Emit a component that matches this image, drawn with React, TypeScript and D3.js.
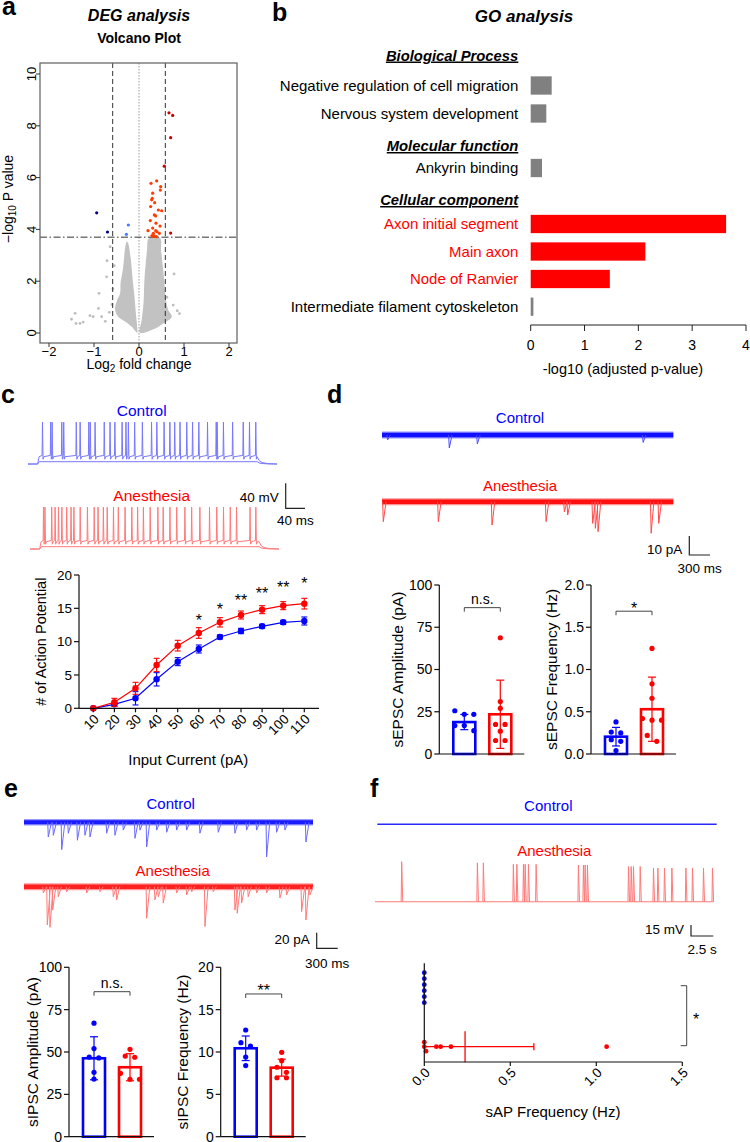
import React from "react";
import * as d3 from "d3";

const FF = "'Liberation Sans', Arial, Helvetica, sans-serif";
const BLUE = "#0000ff";
const RED = "#ff0000";
const GROUPS = ["Control", "Anesthesia"];

// ---------------- a: volcano (log2 FC, -log10 P)
const volcanoXTicks = [-2, -1, 0, 1, 2];
const volcanoYTicks = [0, 2, 4, 6, 8, 10];
const foldCutoff = 0.585;
const pCutoff = 3.7;
const volcanoUpStrong = [[0.667, 8.5], [0.749, 8.4], [0.704, 7.54], [0.562, 6.44], [0.704, 3.86]];
const volcanoUp = [
  [0.267, 5.78], [0.393, 5.87], [0.482, 5.65], [0.474, 5.52], [0.304, 5.4], [0.296, 5.2], [0.281, 5.14],
  [0.348, 5.03], [0.259, 4.88], [0.43, 4.75], [0.504, 4.72], [0.341, 4.56], [0.37, 4.52], [0.252, 4.34],
  [0.378, 4.24], [0.467, 4.13], [0.304, 4.05], [0.2, 3.95], [0.37, 3.95], [0.4, 3.91], [0.319, 3.85],
  [0.452, 3.85], [0.289, 3.76], [0.341, 3.75], [0.385, 3.72], [0.3, 3.73],
];
const volcanoDownStrong = [[-0.94, 4.64], [-0.7, 3.9]];
const volcanoDown = [[-0.237, 4.17], [-0.28, 3.81]];
const volcanoCloudLeft = [
  [-0.04, 0.01], [-0.16, 0.24], [-0.31, 0.44], [-0.46, 0.63], [-0.53, 0.89], [-0.5, 1.21], [-0.42, 1.53],
  [-0.41, 1.92], [-0.36, 2.43], [-0.33, 2.92], [-0.31, 3.27], [-0.27, 3.53], [-0.24, 3.46], [-0.18, 2.82],
  [-0.14, 2.05], [-0.1, 1.4], [-0.07, 0.76], [-0.04, 0.24],
];
const volcanoCloudRight = [
  [0.02, 0.01], [0.06, 0.5], [0.1, 1.15], [0.12, 2.05], [0.15, 2.69], [0.18, 3.2], [0.22, 3.66],
  [0.47, 3.66], [0.49, 3.2], [0.53, 2.56], [0.56, 2.05], [0.59, 1.4], [0.65, 0.89], [0.73, 0.63],
  [0.54, 0.37], [0.32, 0.14],
];
const volcanoGreyOutliers = [
  [-1.5, 0.53], [-1.42, 0.76], [-1.31, 0.37], [-1.4, 0.37], [-1.24, 0.42], [-1.09, 0.67], [-1.02, 0.63],
  [-0.9, 0.95], [-0.89, 1.53], [-0.72, 2.17], [-0.71, 2.79], [-0.64, 3.33], [-0.83, 0.63], [-0.75, 0.45],
  [-0.66, 0.8], [-0.6, 1.1], [0.76, 1.08], [0.85, 0.86], [0.78, 2.28], [0.62, 1.38], [0.68, 0.7],
  [0.9, 0.75], [-0.55, 2.6], [-0.58, 1.7],
];

// ---------------- b: GO analysis
const goSections = ["Biological Process", "Molecular function", "Cellular component"];
const goTerms = [
  "Negative regulation of cell migration",
  "Nervous system development",
  "Ankyrin binding",
  "Axon initial segment",
  "Main axon",
  "Node of Ranvier",
  "Intermediate filament cytoskeleton",
];
const goValues = [0.39, 0.29, 0.21, 3.63, 2.13, 1.47, 0.05];
const goEnriched = [false, false, false, true, true, true, false];
const goTicks = [0, 1, 2, 3, 4];

// ---------------- c: action potentials
const inputCurrents = [10, 20, 30, 40, 50, 60, 70, 80, 90, 100, 110];
const apAnesMean = [0, 0.9, 3.0, 6.5, 9.4, 11.3, 12.9, 14.0, 14.8, 15.4, 15.7];
const apAnesSem = [0, 0.6, 0.9, 1.0, 0.8, 0.8, 0.7, 0.6, 0.6, 0.6, 0.8];
const apCtrlMean = [0, 0.6, 1.5, 4.35, 7.0, 8.9, 10.7, 11.6, 12.3, 12.9, 13.1];
const apCtrlSem = [0, 0.3, 1.0, 1.0, 0.6, 0.6, 0.3, 0.4, 0.3, 0.3, 0.6];
const apSig = ["", "", "", "", "", "*", "*", "**", "**", "**", "*"];
const apYTicks = [0, 5, 10, 15, 20];
const cTraceMs = 516;
const cCtrlSpikeMs = [30, 47, 50, 70, 74, 100, 108, 126, 129, 139, 158, 170, 180, 195, 203, 208, 221, 237, 256, 267, 282, 294, 304, 315, 329, 341, 354, 372, 390, 392, 405, 424, 446, 459, 472];
const cAnesSpikeMs = [28, 31, 45, 52, 59, 66, 76, 85, 91, 104, 119, 133, 141, 152, 160, 173, 183, 197, 211, 223, 235, 249, 265, 276, 290, 304, 321, 335, 352, 372, 387, 401, 415, 428, 456, 468];

// ---------------- d: sEPSC
const dTraceMs = 4220;
const dCtrlEvents = [[81, 2.6], [975, 6.8], [1381, 4.7], [3783, 3.9]];
const dAnesEvents = [[19, 10.5], [816, 10.5], [1594, 12.3], [2377, 10.5], [2642, 5.3], [2690, 7], [3052, 11.4], [3091, 14], [3130, 15.8], [3899, 16.6], [4009, 11.4]];
const sepscAmpCtrl = [25.6, 23.5, 23.5, 16.8, 16.8, 13.8];
const sepscAmpAnes = [68.8, 31, 27, 17.5, 17.5, 13.5, 8, 8];
const sepscAmpMean = [18.9, 23.5];
const sepscAmpSd = [4.5, 20.2];
const sepscFreqCtrl = [0.38, 0.26, 0.25, 0.17, 0.15, 0.04];
const sepscFreqAnes = [1.25, 0.83, 0.66, 0.42, 0.4, 0.4, 0.22, 0.15];
const sepscFreqMean = [0.205, 0.53];
const sepscFreqSd = [0.11, 0.38];

// ---------------- e: sIPSC
const eTraceMs = 4130;
const eCtrlEvents = [[347, 18.8], [419, 16.7], [539, 35], [633, 14], [763, 23], [871, 16.7], [943, 18.8], [1181, 14], [1300, 16.7], [1419, 10], [1586, 20.5], [1657, 10], [1753, 31.7], [1896, 10], [2039, 12.8], [2181, 10], [2324, 10], [2514, 14], [2776, 12.8], [3014, 14], [3181, 10], [3324, 10], [3467, 44.5], [3610, 12.8], [3729, 10], [4029, 25.3]];
const eAnesEvents = [[276, 8], [333, 49], [371, 52], [410, 30], [490, 12.8], [610, 6.4], [896, 8], [1086, 6.4], [1276, 12.8], [1324, 17], [1753, 40.5], [1871, 17], [1919, 12.8], [1990, 21], [2181, 8], [2324, 10.6], [2396, 6.4], [2586, 51], [2704, 6.4], [3014, 30], [3047, 34], [3110, 21], [3204, 12.8], [3324, 8], [3467, 8], [3657, 14.5], [3753, 10.6], [3967, 32], [4029, 42.7], [4086, 10.6]];
const sipscAmpCtrl = [67, 52, 47, 46.5, 38, 34];
const sipscAmpAnes = [51.6, 47.6, 46.9, 37.4, 33.9, 33.9];
const sipscAmpMean = [46.3, 41];
const sipscAmpSd = [12.7, 8];
const sipscFreqCtrl = [12.6, 11.1, 10.7, 9.4, 8.4];
const sipscFreqAnes = [9.96, 8.97, 8.2, 7.6, 6.96, 6.96];
const sipscFreqMean = [10.44, 8.15];
const sipscFreqSd = [1.45, 1.0];

// ---------------- f: spontaneous APs
const fTraceS = 37.9;
const fAnesSpikes = [[2.99, 54.5], [11.47, 53], [12.14, 53], [15.5, 51], [15.89, 51], [16.63, 51], [16.82, 51], [17.19, 51], [18.05, 51], [22.79, 50], [23.35, 50], [23.54, 50], [23.8, 50], [28.4, 48], [28.7, 48], [28.96, 48], [29.71, 48], [31.2, 46], [31.69, 46], [32.43, 46], [33.26, 46], [34.83, 46], [35.57, 46], [36.8, 46], [37.81, 46]];
const sapFreqCtrl = [0, 0, 0, 0, 0, 0];
const sapFreqAnes = [0, 0, 0.01, 0.07, 0.095, 0.155, 1.06];
const sapFreqMean = [0, 0.237];
const sapFreqSd = [0, 0.4];
const sapTicks = [0, 0.5, 1.0, 1.5];

// ---------------- helpers
function binOffsets(pix: number[], tol: number, spacing: number) {
  const idx = pix.map((_, i) => i).sort((a, b) => pix[a] - pix[b]);
  const offs = new Array(pix.length).fill(0);
  let i = 0;
  while (i < idx.length) {
    let j = i;
    while (j + 1 < idx.length && Math.abs(pix[idx[j + 1]] - pix[idx[i]]) < tol) j++;
    const n = j - i + 1;
    for (let k = 0; k < n; k++) offs[idx[i + k]] = (k - (n - 1) / 2) * spacing;
    i = j + 1;
  }
  return offs;
}

function Volcano() {
  const x = d3.scaleLinear().domain([-2, 2]).range([49, 229]);
  const y = d3.scaleLinear().domain([0, 10]).range([333, 74]);
  const L = 40, R = 237, T = 63, B = 343;
  const cloud = d3.line<any>().x((d) => x(d[0])).y((d) => y(d[1])).curve(d3.curveCatmullRomClosed);
  const pts = (arr: number[][], color: string, r: number) =>
    arr.map((d, i) => <circle key={i} cx={x(d[0])} cy={y(d[1])} r={r} fill={color} />);
  return (
    <g>
      <text x={139} y={21} textAnchor="middle" fontSize={16} fontWeight="bold" fontStyle="italic">DEG analysis</text>
      <text x={139} y={43} textAnchor="middle" fontSize={14} fontWeight="bold">Volcano Plot</text>
      <path d={cloud(volcanoCloudLeft) || ""} fill="#c2c2c2" />
      <path d={cloud(volcanoCloudRight) || ""} fill="#c2c2c2" />
      {pts(volcanoGreyOutliers, "#bdbdbd", 1.4)}
      <line x1={x(0)} x2={x(0)} y1={T} y2={B} stroke="#999" strokeDasharray="1.5,1.5" />
      <line x1={x(-foldCutoff)} x2={x(-foldCutoff)} y1={T} y2={B} stroke="#333" strokeDasharray="5,3" />
      <line x1={x(foldCutoff)} x2={x(foldCutoff)} y1={T} y2={B} stroke="#333" strokeDasharray="5,3" />
      <line x1={L} x2={R} y1={y(pCutoff)} y2={y(pCutoff)} stroke="#333" strokeDasharray="7,2.5,1.5,2.5" />
      {pts(volcanoUp, "#ff3c00", 1.6)}
      {pts(volcanoUpStrong, "#c80000", 1.6)}
      {pts(volcanoDown, "#4a78ff", 1.6)}
      {pts(volcanoDownStrong, "#00007a", 1.6)}
      <rect x={L} y={T} width={R - L} height={B - T} fill="none" stroke="#6a6a6a" strokeWidth={1.3} />
      {volcanoXTicks.map((t) => (
        <g key={t}>
          <line x1={x(t)} x2={x(t)} y1={B} y2={B + 4} stroke="#333" />
          <text x={x(t)} y={356} textAnchor="middle" fontSize={13}>{t < 0 ? "\u2212" + Math.abs(t) : t}</text>
        </g>
      ))}
      {volcanoYTicks.map((t) => (
        <g key={t}>
          <line x1={L - 4} x2={L} y1={y(t)} y2={y(t)} stroke="#333" />
          <text transform={`translate(35.5,${y(t)}) rotate(-90)`} textAnchor="middle" fontSize={13}>{t}</text>
        </g>
      ))}
      <text x={139} y={368.5} textAnchor="middle" fontSize={14}>
        <tspan>Log</tspan><tspan fontSize={10} dy={3}>2</tspan><tspan dy={-3}> fold change</tspan>
      </text>
      <text transform="translate(13,199) rotate(-90)" textAnchor="middle" fontSize={14}>
        <tspan>{"\u2212log"}</tspan><tspan fontSize={10} dy={3}>10</tspan><tspan dy={-3}> P value</tspan>
      </text>
    </g>
  );
}

function GoPanel() {
  const x = d3.scaleLinear().domain([0, 4]).range([530.7, 746]);
  const termY = [85.5, 113.5, 168, 224, 251.5, 279, 306.7];
  const headerY = [55.5, 146, 200];
  const labelX = 518.3;
  const barH = 18.3;
  const axisY = 325;
  return (
    <g>
      <text x={524} y={22} textAnchor="middle" fontSize={17} fontWeight="bold" fontStyle="italic">GO analysis</text>
      {goSections.map((s, i) => (
        <text key={s} x={labelX} y={headerY[i] + 5} textAnchor="end" fontSize={14.8} fontWeight="bold" fontStyle="italic" style={{ textDecoration: "underline" }}>{s}</text>
      ))}
      {goTerms.map((t, i) => (
        <g key={t}>
          <text x={labelX} y={termY[i]} dy="0.35em" textAnchor="end" fontSize={15} fill={goEnriched[i] ? RED : "#000"}>{t}</text>
          <rect x={x(0)} y={termY[i] - barH / 2} width={x(goValues[i]) - x(0)} height={barH} fill={goEnriched[i] ? RED : "#808080"} />
        </g>
      ))}
      <line x1={x(0)} x2={x(4)} y1={axisY} y2={axisY} stroke="#222" />
      {goTicks.map((t) => (
        <g key={t}>
          <line x1={x(t)} x2={x(t)} y1={axisY} y2={axisY + 6} stroke="#222" />
          <text x={x(t)} y={350} textAnchor="middle" fontSize={14}>{t}</text>
        </g>
      ))}
      <text x={623} y={374} textAnchor="middle" fontSize={14.5}>-log10 (adjusted p-value)</text>
    </g>
  );
}

function spikeTrace(spikes: number[], rest: number, level: number, peak: number, tOn: number, tOff: number, tEnd: number) {
  const p: number[][] = [[0, rest], [tOn, rest], [tOn + 3, level]];
  spikes.forEach((t) => {
    p.push([t - 0.8, level + 2], [t, peak], [t + 1.2, level - 4], [t + 3, level]);
  });
  const dv = level - rest;
  p.push([tOff, level], [tOff + 4, rest + dv * 0.45], [tOff + 10, rest + dv * 0.2], [tOff + 22, rest + dv * 0.05], [tEnd, rest]);
  return p;
}

function SpikeTraceSet({ spikes, x0, x1, yRest, color }: any) {
  const t = d3.scaleLinear().domain([0, cTraceMs]).range([x0, x1]);
  const v = d3.scaleLinear().domain([-70, -30]).range([yRest, yRest - 25]);
  const line = d3.line<any>().x((d) => t(d[0])).y((d) => v(d[1]));
  const traces = [spikeTrace([], -70, -66.3, -3, 20, 475, cTraceMs), spikeTrace(spikes, -70, -58.3, -3, 20, 475, cTraceMs)];
  return (
    <g>
      {traces.map((tr, i) => <path key={i} d={line(tr) || ""} fill="none" stroke={color} strokeWidth={1} />)}
    </g>
  );
}

function ScaleBar({ x, yTop, yBot, xEnd, vLabel, hLabel, vLabelY, hLabelY }: any) {
  return (
    <g>
      <path d={`M${x},${yTop}V${yBot}H${xEnd}`} fill="none" stroke="#222" strokeWidth={1.2} />
      <text x={x - 7} y={vLabelY} textAnchor="end" fontSize={13.5}>{vLabel}</text>
      <text x={(x + xEnd) / 2} y={hLabelY} textAnchor="middle" fontSize={13.5}>{hLabel}</text>
    </g>
  );
}

function CTraces() {
  const tA = d3.scaleLinear().domain([0, cTraceMs]).range([30, 279]);
  const vA = d3.scaleLinear().domain([0, 40]).range([508.3, 483.3]);
  const sx = 285.7;
  return (
    <g>
      <text x={141.7} y={416} textAnchor="middle" fontSize={15.5} fill={BLUE}>Control</text>
      <SpikeTraceSet spikes={cCtrlSpikeMs} x0={28} x1={277} yRest={464} color="#7878ff" />
      <text x={151.7} y={500.5} textAnchor="middle" fontSize={15.5} fill={RED}>Anesthesia</text>
      <SpikeTraceSet spikes={cAnesSpikeMs} x0={30} x1={279} yRest={549} color="#ff7a7a" />
      <ScaleBar x={sx} yTop={vA(40)} yBot={vA(0)} xEnd={sx + (tA(40) - tA(0))} vLabel="40 mV" hLabel="40 ms" vLabelY={501.5} hLabelY={524.5} />
    </g>
  );
}

function APChart() {
  const x = d3.scalePoint().domain(inputCurrents.map(String)).range([93.3, 304.3]);
  const y = d3.scaleLinear().domain([0, 20]).range([708.3, 575]);
  const x0 = 79, x1 = 319;
  const line = d3.line<number>().x((_, i) => x(String(inputCurrents[i])) as number).y((d) => y(d));
  const sigLevels = [0, 0, 0, 0, 0, 13.7, 15.35, 16.65, 17.75, 18.65, 19.25];
  const series = [
    { mean: apCtrlMean, sem: apCtrlSem, c: BLUE },
    { mean: apAnesMean, sem: apAnesSem, c: RED },
  ];
  return (
    <g>
      {series.map((s, si) => (
        <g key={si}>
          <path d={line(s.mean) || ""} fill="none" stroke={s.c} strokeWidth={1.2} />
          {s.mean.map((m, i) => {
            const cx = x(String(inputCurrents[i])) as number;
            const e = s.sem[i];
            return (
              <g key={i}>
                {e > 0 && (
                  <g stroke={s.c} strokeWidth={1.1}>
                    <line x1={cx} x2={cx} y1={y(m + e)} y2={y(m - e)} />
                    <line x1={cx - 3} x2={cx + 3} y1={y(m + e)} y2={y(m + e)} />
                    <line x1={cx - 3} x2={cx + 3} y1={y(m - e)} y2={y(m - e)} />
                  </g>
                )}
                <circle cx={cx} cy={y(m)} r={3.2} fill={s.c} />
              </g>
            );
          })}
        </g>
      ))}
      {apSig.map((s, i) => s ? (
        <text key={i} x={x(String(inputCurrents[i]))} y={y(sigLevels[i]) + 9} textAnchor="middle" fontSize={16}>{s}</text>
      ) : null)}
      <line x1={x0} x2={x0} y1={y(0)} y2={y(20)} stroke="#111" strokeWidth={1.2} />
      <line x1={x0} x2={x1} y1={y(0)} y2={y(0)} stroke="#111" strokeWidth={1.2} />
      {apYTicks.map((t) => (
        <g key={t}>
          <line x1={x0 - 5} x2={x0} y1={y(t)} y2={y(t)} stroke="#111" strokeWidth={1.2} />
          <text x={x0 - 7} y={y(t)} dy="0.35em" textAnchor="end" fontSize={13.5}>{t}</text>
        </g>
      ))}
      {inputCurrents.map((c) => {
        const px = x(String(c)) as number;
        return (
          <g key={c}>
            <line x1={px} x2={px} y1={y(0)} y2={y(0) + 4} stroke="#111" strokeWidth={1.2} />
            <text transform={`translate(${px + 4},${y(0) + 9}) rotate(-45)`} textAnchor="end" dominantBaseline="middle" fontSize={13.5}>{c}</text>
          </g>
        );
      })}
      <text x={188.3} y={764.5} textAnchor="middle" fontSize={15}>Input Current (pA)</text>
      <text transform="translate(45.5,641.7) rotate(-90)" textAnchor="middle" fontSize={14.5}># of Action Potential</text>
    </g>
  );
}

function EventTrace({ events, tMax, x0, x1, yc, pxPerUnit, band, ev, bandW, rise, decay }: any) {
  const t = d3.scaleLinear().domain([0, tMax]).range([x0, x1]);
  const a = d3.scaleLinear().domain([0, 10]).range([yc, yc + 10 * pxPerUnit]);
  const evPath = events
    .map(([tt, amp]: number[]) => `M${t(tt - rise)},${yc}L${t(tt)},${a(amp)}L${t(tt + decay)},${yc}`)
    .join("");
  return (
    <g>
      <line x1={t(0)} x2={t(tMax)} y1={yc} y2={yc} stroke={band} strokeWidth={bandW + 2.5} strokeOpacity={0.45} />
      <line x1={t(0)} x2={t(tMax)} y1={yc} y2={yc} stroke={band} strokeWidth={bandW} />
      <path d={evPath} fill="none" stroke={ev} strokeWidth={1} />
    </g>
  );
}

function DTraces() {
  const t = d3.scaleLinear().domain([0, dTraceMs]).range([382, 673.3]);
  const sx = 689.3;
  return (
    <g>
      <text x={520} y={422.5} textAnchor="middle" fontSize={15} fill={BLUE}>Control</text>
      <EventTrace events={dCtrlEvents} tMax={dTraceMs} x0={382} x1={673.3} yc={435} pxPerUnit={1.9} band="#1010ff" ev="#4a4aff" bandW={4.5} rise={10} decay={40} />
      <text x={520} y={490.5} textAnchor="middle" fontSize={15} fill={RED}>Anesthesia</text>
      <EventTrace events={dAnesEvents} tMax={dTraceMs} x0={382} x1={673.3} yc={501.7} pxPerUnit={1.9} band="#ff1010" ev="#ff4a4a" bandW={4.5} rise={10} decay={40} />
      <ScaleBar x={sx} yTop={536} yBot={536 + 10 * 1.9} xEnd={sx + (t(300) - t(0))} vLabel="10 pA" hLabel="300 ms" vLabelY={553.5} hLabelY={572.5} />
    </g>
  );
}

function ETraces() {
  const t = d3.scaleLinear().domain([0, eTraceMs]).range([24, 313]);
  const sx = 316.7;
  return (
    <g>
      <text x={170.7} y={808.5} textAnchor="middle" fontSize={15} fill={BLUE}>Control</text>
      <EventTrace events={eCtrlEvents} tMax={eTraceMs} x0={24} x1={313} yc={822.3} pxPerUnit={0.78} band="#1a1aff" ev="#6a6aff" bandW={4} rise={8} decay={45} />
      <text x={172.7} y={876} textAnchor="middle" fontSize={15} fill={RED}>Anesthesia</text>
      <EventTrace events={eAnesEvents} tMax={eTraceMs} x0={24} x1={313} yc={886.7} pxPerUnit={0.78} band="#ff2020" ev="#ff7a7a" bandW={4.5} rise={8} decay={45} />
      <ScaleBar x={sx} yTop={932.7} yBot={932.7 + 20 * 0.78} xEnd={sx + (t(300) - t(0))} vLabel="20 pA" hLabel="300 ms" vLabelY={944} hLabelY={967.5} />
    </g>
  );
}

function FTraces() {
  const tA = d3.scaleLinear().domain([0, fTraceS]).range([375, 713.3]);
  const tC = d3.scaleLinear().domain([0, fTraceS]).range([377.3, 716.7]);
  const v = d3.scaleLinear().domain([0, 15]).range([901.7, 890.7]);
  const spikePath = fAnesSpikes
    .map(([s, a]) => `M${tA(s - 0.06)},${v(0)}L${tA(s)},${v(a)}L${tA(s + 0.12)},${v(0)}`)
    .join("");
  const sx = 691;
  return (
    <g>
      <text x={548.3} y={810.5} textAnchor="middle" fontSize={15} fill={BLUE}>Control</text>
      <line x1={tC(0)} x2={tC(fTraceS)} y1={824.3} y2={824.3} stroke="#2a2aff" strokeWidth={1.5} />
      <text x={554.3} y={855.5} textAnchor="middle" fontSize={15} fill={RED}>Anesthesia</text>
      <line x1={tA(0)} x2={tA(fTraceS)} y1={v(0)} y2={v(0)} stroke="#ff7a7a" strokeWidth={1.1} />
      <path d={spikePath} fill="none" stroke="#ff7a7a" strokeWidth={1} />
      <ScaleBar x={sx} yTop={v(15) + 34.3} yBot={v(0) + 34.3} xEnd={sx + (tA(2.5) - tA(0))} vLabel="15 mV" hLabel="2.5 s" vLabelY={934} hLabelY={953.5} />
    </g>
  );
}

function BarChart({ x0, yBottom, yTop, max, ticks, fmt, title, titleX, ctrl, anes, means, sds, sig, sigLevel }: any) {
  const y = d3.scaleLinear().domain([0, max]).range([yBottom, yTop]);
  const x = d3.scalePoint().domain(GROUPS).range([x0 + 25, x0 + 61]);
  const colors = [BLUE, RED];
  const groups = [ctrl, anes];
  const barW = 22;
  const by = y(sigLevel);
  const cx0 = x(GROUPS[0]) as number, cx1 = x(GROUPS[1]) as number;
  return (
    <g>
      {groups.map((vals: number[], gi: number) => {
        const cx = x(GROUPS[gi]) as number;
        const c = colors[gi];
        const pix = vals.map((v) => y(v));
        const offs = binOffsets(pix, 6.5, 9.5);
        const m = means[gi], s = sds[gi];
        return (
          <g key={gi}>
            <rect x={cx - barW / 2} y={y(m)} width={barW} height={y(0) - y(m)} fill="#fff" stroke={c} strokeWidth={2.6} />
            <g stroke={c} strokeWidth={1.2}>
              <line x1={cx} x2={cx} y1={y(m + s)} y2={y(Math.max(0, m - s))} />
              <line x1={cx - 4} x2={cx + 4} y1={y(m + s)} y2={y(m + s)} />
              <line x1={cx - 4} x2={cx + 4} y1={y(Math.max(0, m - s))} y2={y(Math.max(0, m - s))} />
            </g>
            {vals.map((v, i) => <circle key={i} cx={cx + offs[i]} cy={y(v)} r={2.6} fill={c} />)}
          </g>
        );
      })}
      <line x1={x0} x2={x0} y1={y(0)} y2={y(max)} stroke="#111" strokeWidth={1.2} />
      <line x1={x0} x2={x0 + 85} y1={y(0)} y2={y(0)} stroke="#111" strokeWidth={1.2} />
      {ticks.map((t: number) => (
        <g key={t}>
          <line x1={x0 - 5} x2={x0} y1={y(t)} y2={y(t)} stroke="#111" strokeWidth={1.2} />
          <text x={x0 - 7} y={y(t)} dy="0.35em" textAnchor="end" fontSize={14}>{fmt(t)}</text>
        </g>
      ))}
      <path d={`M${cx0},${by + 4}V${by}H${cx1}V${by + 4}`} fill="none" stroke="#444" strokeWidth={1} />
      {sig === "n.s." ? (
        <text x={(cx0 + cx1) / 2} y={by - 3.5} textAnchor="middle" fontSize={14}>{sig}</text>
      ) : (
        <text x={(cx0 + cx1) / 2} y={by + 2.5} textAnchor="middle" fontSize={16}>{sig}</text>
      )}
      <text transform={`translate(${titleX},${(yBottom + yTop) / 2}) rotate(-90)`} textAnchor="middle" fontSize={15.5}>{title}</text>
    </g>
  );
}

function DotPlot() {
  const x = d3.scaleLinear().domain([0, 1.5]).range([424.3, 682.3]);
  const y = d3.scalePoint().domain(GROUPS).range([987.7, 1046.7]);
  const axisY = 1062;
  const groups = [sapFreqCtrl, sapFreqAnes];
  const colors = [BLUE, RED];
  const spacing = [6, 4.5];
  const y0 = y(GROUPS[0]) as number, y1 = y(GROUPS[1]) as number;
  return (
    <g>
      {groups.map((vals, gi) => {
        const cy = y(GROUPS[gi]) as number;
        const c = colors[gi];
        const pix = vals.map((v) => x(v));
        const offs = binOffsets(pix, 3, spacing[gi]);
        const m = sapFreqMean[gi], s = sapFreqSd[gi];
        return (
          <g key={gi}>
            <g stroke={c} strokeWidth={1.3}>
              <line x1={x(Math.max(0, m - s))} x2={x(m + s)} y1={cy} y2={cy} />
              <line x1={x(m + s)} x2={x(m + s)} y1={cy - 3.5} y2={cy + 3.5} />
              <line x1={x(m)} x2={x(m)} y1={cy - 15.5} y2={cy + 15.5} />
            </g>
            {vals.map((v, i) => <circle key={i} cx={x(v)} cy={cy + offs[i]} r={2.4} fill={c} />)}
          </g>
        );
      })}
      <line x1={x(0)} x2={x(0)} y1={963.3} y2={axisY} stroke="#111" strokeWidth={1.2} />
      <line x1={x(0)} x2={x(1.5)} y1={axisY} y2={axisY} stroke="#111" strokeWidth={1.2} />
      {sapTicks.map((t) => (
        <g key={t}>
          <line x1={x(t)} x2={x(t)} y1={axisY} y2={axisY + 4} stroke="#111" strokeWidth={1.2} />
          <text transform={`translate(${x(t) + 4},${axisY + 9}) rotate(-45)`} textAnchor="end" dominantBaseline="middle" fontSize={13.5}>{t.toFixed(1)}</text>
        </g>
      ))}
      <text x={553} y={1117} textAnchor="middle" fontSize={15}>sAP  Frequency (Hz)</text>
      <path d={`M680.7,${y0 - 2}H686.7V${y1 - 1}H680.7`} fill="none" stroke="#444" strokeWidth={1} />
      <text x={696} y={1025} textAnchor="middle" fontSize={16}>*</text>
    </g>
  );
}

export default function App() {
  return (
    <svg width={750} height={1142} style={{ position: "absolute", left: 0, top: 0 }} fontFamily={FF}>
      <rect width={750} height={1142} fill="#fff" />
      <g fontWeight="bold" fontSize={25}>
        <text x={2} y={15}>a</text>
        <text x={272} y={21}>b</text>
        <text x={1} y={403}>c</text>
        <text x={327} y={403}>d</text>
        <text x={4} y={797}>e</text>
        <text x={370} y={797}>f</text>
      </g>
      <Volcano />
      <GoPanel />
      <CTraces />
      <APChart />
      <DTraces />
      <BarChart x0={439.3} yBottom={754} yTop={585} max={100} ticks={[0, 25, 50, 75, 100]} fmt={(t: number) => String(t)} title="sEPSC Amplitude (pA)" titleX={403} ctrl={sepscAmpCtrl} anes={sepscAmpAnes} means={sepscAmpMean} sds={sepscAmpSd} sig="n.s." sigLevel={86.6} />
      <BarChart x0={591} yBottom={754} yTop={585} max={2} ticks={[0, 0.5, 1, 1.5, 2]} fmt={(t: number) => t.toFixed(1)} title="sEPSC Frequency (Hz)" titleX={557} ctrl={sepscFreqCtrl} anes={sepscFreqAnes} means={sepscFreqMean} sds={sepscFreqSd} sig="*" sigLevel={1.69} />
      <ETraces />
      <BarChart x0={69} yBottom={1136.7} yTop={967.3} max={100} ticks={[0, 25, 50, 75, 100]} fmt={(t: number) => String(t)} title="sIPSC Amplitude (pA)" titleX={37.5} ctrl={sipscAmpCtrl} anes={sipscAmpAnes} means={sipscAmpMean} sds={sipscAmpSd} sig="n.s." sigLevel={85.6} />
      <BarChart x0={220.7} yBottom={1136.7} yTop={967.3} max={20} ticks={[0, 5, 10, 15, 20]} fmt={(t: number) => String(t)} title="sIPSC Frequency (Hz)" titleX={187.5} ctrl={sipscFreqCtrl} anes={sipscFreqAnes} means={sipscFreqMean} sds={sipscFreqSd} sig="**" sigLevel={16.85} />
      <FTraces />
      <DotPlot />
    </svg>
  );
}
